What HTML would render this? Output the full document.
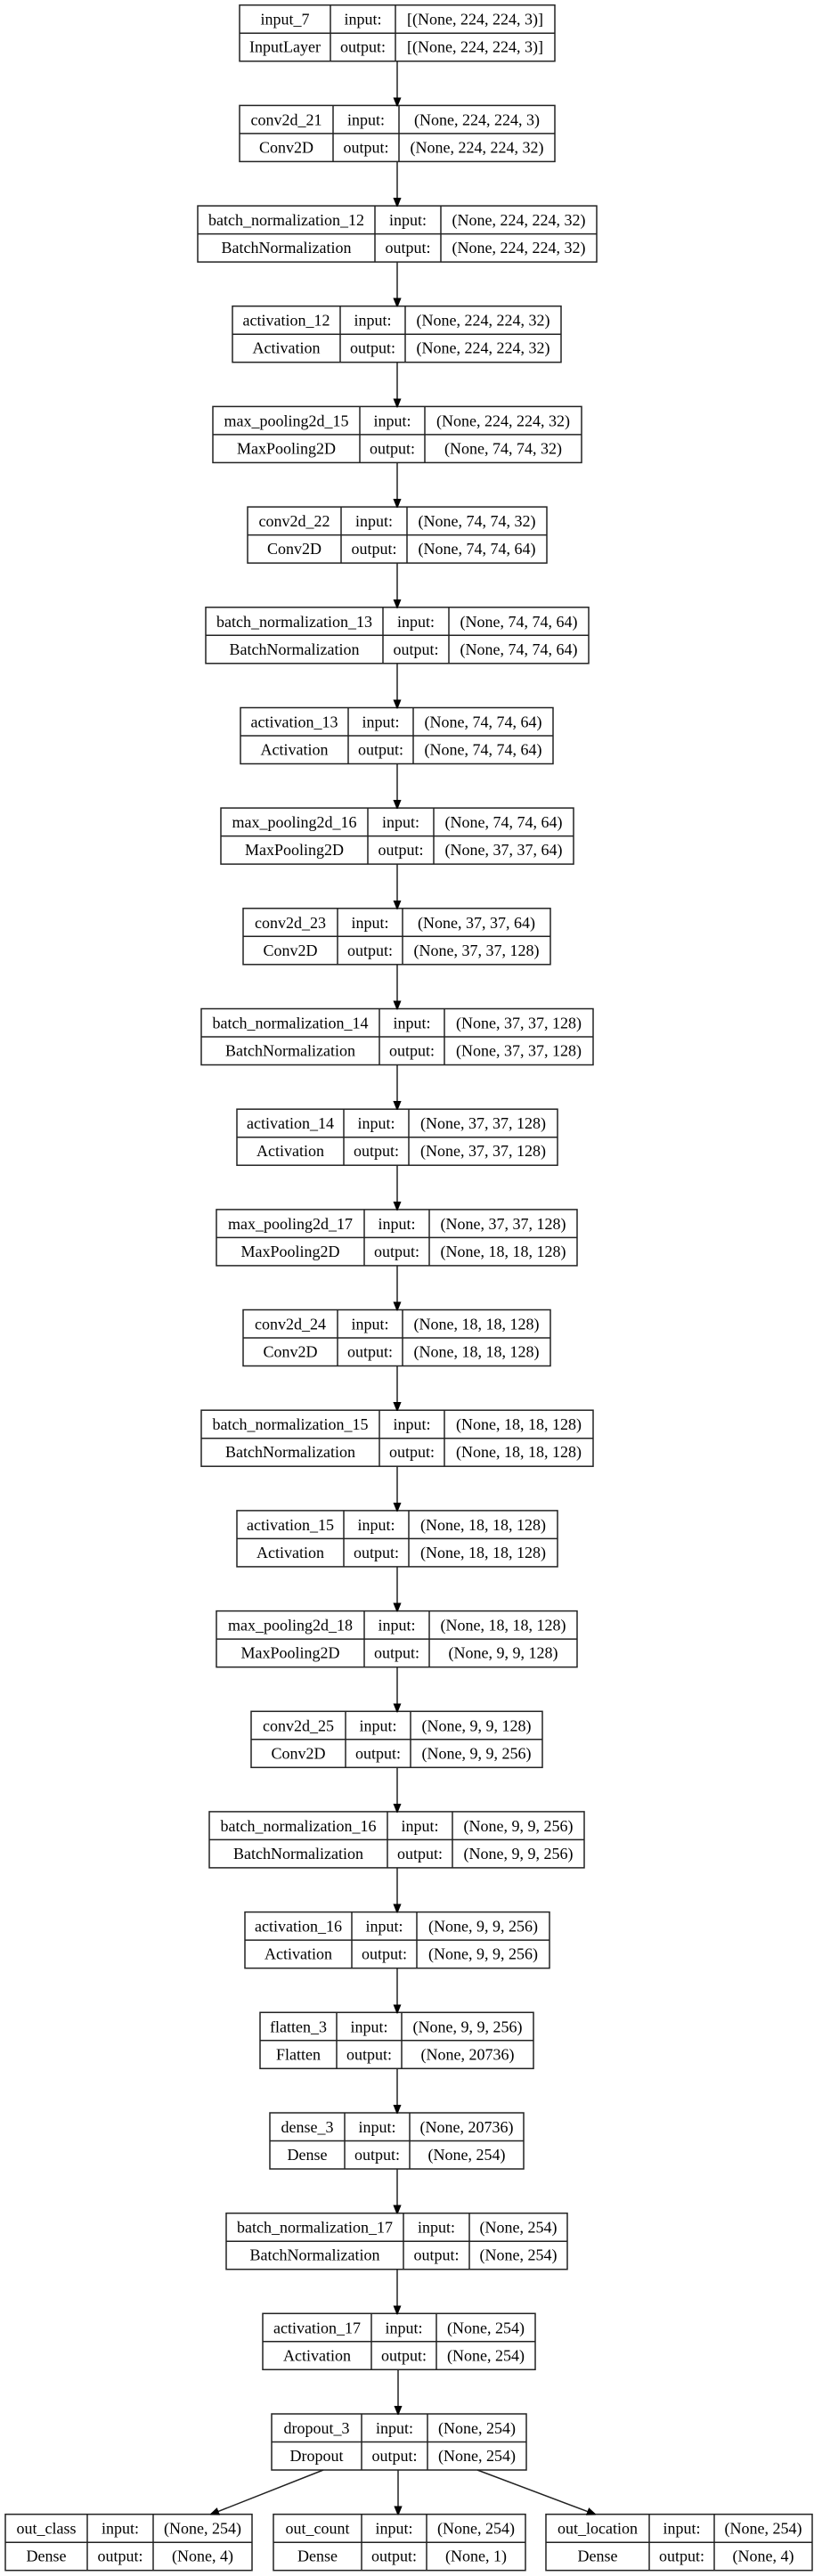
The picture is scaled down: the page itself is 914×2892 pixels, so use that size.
<!DOCTYPE html>
<html><head><meta charset="utf-8"><style>
html,body{margin:0;padding:0;background:#fff;width:914px;height:2892px;overflow:hidden}
svg{display:block}
text{font-family:"Liberation Serif",serif;font-size:18px;fill:#000;text-anchor:middle;dominant-baseline:central}
rect,line.b{fill:none;stroke:#222;stroke-width:1.5}
line.a{stroke:#222;stroke-width:1.5}
polygon{fill:#000;stroke:#000}
</style></head><body>
<svg width="914" height="2892" viewBox="0 0 914 2892" xmlns="http://www.w3.org/2000/svg">
<defs><marker id="m" markerWidth="10" markerHeight="10" refX="9" refY="5" orient="auto" markerUnits="userSpaceOnUse"><polygon points="0,1 10,5 0,9"/></marker></defs>

<g transform="translate(0,5.7)"><rect x="269" y="0" width="354" height="63"/><line class="b" x1="269" y1="31.5" x2="623" y2="31.5"/><line class="b" x1="371" y1="0" x2="371" y2="63"/><line class="b" x1="444" y1="0" x2="444" y2="63"/><text x="320" y="16">input_7</text><text x="407.5" y="16">input:</text><text x="533.5" y="16">[(None, 224, 224, 3)]</text><text x="320" y="47">InputLayer</text><text x="407.5" y="47">output:</text><text x="533.5" y="47">[(None, 224, 224, 3)]</text></g>

<g transform="translate(0,118.4)"><rect x="269" y="0" width="354" height="63"/><line class="b" x1="269" y1="31.5" x2="623" y2="31.5"/><line class="b" x1="374" y1="0" x2="374" y2="63"/><line class="b" x1="448" y1="0" x2="448" y2="63"/><text x="321.5" y="16">conv2d_21</text><text x="411" y="16">input:</text><text x="535.5" y="16">(None, 224, 224, 3)</text><text x="321.5" y="47">Conv2D</text><text x="411" y="47">output:</text><text x="535.5" y="47">(None, 224, 224, 32)</text></g>

<g transform="translate(0,231.1)"><rect x="222" y="0" width="448" height="63"/><line class="b" x1="222" y1="31.5" x2="670" y2="31.5"/><line class="b" x1="421" y1="0" x2="421" y2="63"/><line class="b" x1="495" y1="0" x2="495" y2="63"/><text x="321.5" y="16">batch_normalization_12</text><text x="458" y="16">input:</text><text x="582.5" y="16">(None, 224, 224, 32)</text><text x="321.5" y="47">BatchNormalization</text><text x="458" y="47">output:</text><text x="582.5" y="47">(None, 224, 224, 32)</text></g>

<g transform="translate(0,343.7)"><rect x="261" y="0" width="369" height="63"/><line class="b" x1="261" y1="31.5" x2="630" y2="31.5"/><line class="b" x1="382" y1="0" x2="382" y2="63"/><line class="b" x1="455" y1="0" x2="455" y2="63"/><text x="321.5" y="16">activation_12</text><text x="418.5" y="16">input:</text><text x="542.5" y="16">(None, 224, 224, 32)</text><text x="321.5" y="47">Activation</text><text x="418.5" y="47">output:</text><text x="542.5" y="47">(None, 224, 224, 32)</text></g>

<g transform="translate(0,456.4)"><rect x="239" y="0" width="414" height="63"/><line class="b" x1="239" y1="31.5" x2="653" y2="31.5"/><line class="b" x1="404" y1="0" x2="404" y2="63"/><line class="b" x1="477" y1="0" x2="477" y2="63"/><text x="321.5" y="16">max_pooling2d_15</text><text x="440.5" y="16">input:</text><text x="565" y="16">(None, 224, 224, 32)</text><text x="321.5" y="47">MaxPooling2D</text><text x="440.5" y="47">output:</text><text x="565" y="47">(None, 74, 74, 32)</text></g>

<g transform="translate(0,569.1)"><rect x="278" y="0" width="336" height="63"/><line class="b" x1="278" y1="31.5" x2="614" y2="31.5"/><line class="b" x1="383" y1="0" x2="383" y2="63"/><line class="b" x1="457" y1="0" x2="457" y2="63"/><text x="330.5" y="16">conv2d_22</text><text x="420" y="16">input:</text><text x="535.5" y="16">(None, 74, 74, 32)</text><text x="330.5" y="47">Conv2D</text><text x="420" y="47">output:</text><text x="535.5" y="47">(None, 74, 74, 64)</text></g>

<g transform="translate(0,681.8)"><rect x="231" y="0" width="430" height="63"/><line class="b" x1="231" y1="31.5" x2="661" y2="31.5"/><line class="b" x1="430" y1="0" x2="430" y2="63"/><line class="b" x1="504" y1="0" x2="504" y2="63"/><text x="330.5" y="16">batch_normalization_13</text><text x="467" y="16">input:</text><text x="582.5" y="16">(None, 74, 74, 64)</text><text x="330.5" y="47">BatchNormalization</text><text x="467" y="47">output:</text><text x="582.5" y="47">(None, 74, 74, 64)</text></g>

<g transform="translate(0,794.5)"><rect x="270" y="0" width="351" height="63"/><line class="b" x1="270" y1="31.5" x2="621" y2="31.5"/><line class="b" x1="391" y1="0" x2="391" y2="63"/><line class="b" x1="464" y1="0" x2="464" y2="63"/><text x="330.5" y="16">activation_13</text><text x="427.5" y="16">input:</text><text x="542.5" y="16">(None, 74, 74, 64)</text><text x="330.5" y="47">Activation</text><text x="427.5" y="47">output:</text><text x="542.5" y="47">(None, 74, 74, 64)</text></g>

<g transform="translate(0,907.1)"><rect x="248" y="0" width="396" height="63"/><line class="b" x1="248" y1="31.5" x2="644" y2="31.5"/><line class="b" x1="413" y1="0" x2="413" y2="63"/><line class="b" x1="487" y1="0" x2="487" y2="63"/><text x="330.5" y="16">max_pooling2d_16</text><text x="450" y="16">input:</text><text x="565.5" y="16">(None, 74, 74, 64)</text><text x="330.5" y="47">MaxPooling2D</text><text x="450" y="47">output:</text><text x="565.5" y="47">(None, 37, 37, 64)</text></g>

<g transform="translate(0,1019.8)"><rect x="273" y="0" width="345" height="63"/><line class="b" x1="273" y1="31.5" x2="618" y2="31.5"/><line class="b" x1="379" y1="0" x2="379" y2="63"/><line class="b" x1="452" y1="0" x2="452" y2="63"/><text x="326" y="16">conv2d_23</text><text x="415.5" y="16">input:</text><text x="535" y="16">(None, 37, 37, 64)</text><text x="326" y="47">Conv2D</text><text x="415.5" y="47">output:</text><text x="535" y="47">(None, 37, 37, 128)</text></g>

<g transform="translate(0,1132.5)"><rect x="226" y="0" width="440" height="63"/><line class="b" x1="226" y1="31.5" x2="666" y2="31.5"/><line class="b" x1="426" y1="0" x2="426" y2="63"/><line class="b" x1="499" y1="0" x2="499" y2="63"/><text x="326" y="16">batch_normalization_14</text><text x="462.5" y="16">input:</text><text x="582.5" y="16">(None, 37, 37, 128)</text><text x="326" y="47">BatchNormalization</text><text x="462.5" y="47">output:</text><text x="582.5" y="47">(None, 37, 37, 128)</text></g>

<g transform="translate(0,1245.2)"><rect x="266" y="0" width="360" height="63"/><line class="b" x1="266" y1="31.5" x2="626" y2="31.5"/><line class="b" x1="386" y1="0" x2="386" y2="63"/><line class="b" x1="459" y1="0" x2="459" y2="63"/><text x="326" y="16">activation_14</text><text x="422.5" y="16">input:</text><text x="542.5" y="16">(None, 37, 37, 128)</text><text x="326" y="47">Activation</text><text x="422.5" y="47">output:</text><text x="542.5" y="47">(None, 37, 37, 128)</text></g>

<g transform="translate(0,1357.9)"><rect x="243" y="0" width="405" height="63"/><line class="b" x1="243" y1="31.5" x2="648" y2="31.5"/><line class="b" x1="409" y1="0" x2="409" y2="63"/><line class="b" x1="482" y1="0" x2="482" y2="63"/><text x="326" y="16">max_pooling2d_17</text><text x="445.5" y="16">input:</text><text x="565" y="16">(None, 37, 37, 128)</text><text x="326" y="47">MaxPooling2D</text><text x="445.5" y="47">output:</text><text x="565" y="47">(None, 18, 18, 128)</text></g>

<g transform="translate(0,1470.5)"><rect x="273" y="0" width="345" height="63"/><line class="b" x1="273" y1="31.5" x2="618" y2="31.5"/><line class="b" x1="379" y1="0" x2="379" y2="63"/><line class="b" x1="452" y1="0" x2="452" y2="63"/><text x="326" y="16">conv2d_24</text><text x="415.5" y="16">input:</text><text x="535" y="16">(None, 18, 18, 128)</text><text x="326" y="47">Conv2D</text><text x="415.5" y="47">output:</text><text x="535" y="47">(None, 18, 18, 128)</text></g>

<g transform="translate(0,1583.2)"><rect x="226" y="0" width="440" height="63"/><line class="b" x1="226" y1="31.5" x2="666" y2="31.5"/><line class="b" x1="426" y1="0" x2="426" y2="63"/><line class="b" x1="499" y1="0" x2="499" y2="63"/><text x="326" y="16">batch_normalization_15</text><text x="462.5" y="16">input:</text><text x="582.5" y="16">(None, 18, 18, 128)</text><text x="326" y="47">BatchNormalization</text><text x="462.5" y="47">output:</text><text x="582.5" y="47">(None, 18, 18, 128)</text></g>

<g transform="translate(0,1695.9)"><rect x="266" y="0" width="360" height="63"/><line class="b" x1="266" y1="31.5" x2="626" y2="31.5"/><line class="b" x1="386" y1="0" x2="386" y2="63"/><line class="b" x1="459" y1="0" x2="459" y2="63"/><text x="326" y="16">activation_15</text><text x="422.5" y="16">input:</text><text x="542.5" y="16">(None, 18, 18, 128)</text><text x="326" y="47">Activation</text><text x="422.5" y="47">output:</text><text x="542.5" y="47">(None, 18, 18, 128)</text></g>

<g transform="translate(0,1808.6)"><rect x="243" y="0" width="405" height="63"/><line class="b" x1="243" y1="31.5" x2="648" y2="31.5"/><line class="b" x1="409" y1="0" x2="409" y2="63"/><line class="b" x1="482" y1="0" x2="482" y2="63"/><text x="326" y="16">max_pooling2d_18</text><text x="445.5" y="16">input:</text><text x="565" y="16">(None, 18, 18, 128)</text><text x="326" y="47">MaxPooling2D</text><text x="445.5" y="47">output:</text><text x="565" y="47">(None, 9, 9, 128)</text></g>

<g transform="translate(0,1921.3)"><rect x="282" y="0" width="327" height="63"/><line class="b" x1="282" y1="31.5" x2="609" y2="31.5"/><line class="b" x1="388" y1="0" x2="388" y2="63"/><line class="b" x1="461" y1="0" x2="461" y2="63"/><text x="335" y="16">conv2d_25</text><text x="424.5" y="16">input:</text><text x="535" y="16">(None, 9, 9, 128)</text><text x="335" y="47">Conv2D</text><text x="424.5" y="47">output:</text><text x="535" y="47">(None, 9, 9, 256)</text></g>

<g transform="translate(0,2033.9)"><rect x="235" y="0" width="421" height="63"/><line class="b" x1="235" y1="31.5" x2="656" y2="31.5"/><line class="b" x1="435" y1="0" x2="435" y2="63"/><line class="b" x1="508" y1="0" x2="508" y2="63"/><text x="335" y="16">batch_normalization_16</text><text x="471.5" y="16">input:</text><text x="582" y="16">(None, 9, 9, 256)</text><text x="335" y="47">BatchNormalization</text><text x="471.5" y="47">output:</text><text x="582" y="47">(None, 9, 9, 256)</text></g>

<g transform="translate(0,2146.6)"><rect x="275" y="0" width="342" height="63"/><line class="b" x1="275" y1="31.5" x2="617" y2="31.5"/><line class="b" x1="395" y1="0" x2="395" y2="63"/><line class="b" x1="468" y1="0" x2="468" y2="63"/><text x="335" y="16">activation_16</text><text x="431.5" y="16">input:</text><text x="542.5" y="16">(None, 9, 9, 256)</text><text x="335" y="47">Activation</text><text x="431.5" y="47">output:</text><text x="542.5" y="47">(None, 9, 9, 256)</text></g>

<g transform="translate(0,2259.3)"><rect x="292" y="0" width="307" height="63"/><line class="b" x1="292" y1="31.5" x2="599" y2="31.5"/><line class="b" x1="378" y1="0" x2="378" y2="63"/><line class="b" x1="451" y1="0" x2="451" y2="63"/><text x="335" y="16">flatten_3</text><text x="414.5" y="16">input:</text><text x="525" y="16">(None, 9, 9, 256)</text><text x="335" y="47">Flatten</text><text x="414.5" y="47">output:</text><text x="525" y="47">(None, 20736)</text></g>

<g transform="translate(0,2372)"><rect x="303" y="0" width="285" height="63"/><line class="b" x1="303" y1="31.5" x2="588" y2="31.5"/><line class="b" x1="387" y1="0" x2="387" y2="63"/><line class="b" x1="460" y1="0" x2="460" y2="63"/><text x="345" y="16">dense_3</text><text x="423.5" y="16">input:</text><text x="524" y="16">(None, 20736)</text><text x="345" y="47">Dense</text><text x="423.5" y="47">output:</text><text x="524" y="47">(None, 254)</text></g>

<g transform="translate(0,2484.7)"><rect x="254" y="0" width="383" height="63"/><line class="b" x1="254" y1="31.5" x2="637" y2="31.5"/><line class="b" x1="453" y1="0" x2="453" y2="63"/><line class="b" x1="527" y1="0" x2="527" y2="63"/><text x="353.5" y="16">batch_normalization_17</text><text x="490" y="16">input:</text><text x="582" y="16">(None, 254)</text><text x="353.5" y="47">BatchNormalization</text><text x="490" y="47">output:</text><text x="582" y="47">(None, 254)</text></g>

<g transform="translate(0,2597.3)"><rect x="295" y="0" width="306" height="63"/><line class="b" x1="295" y1="31.5" x2="601" y2="31.5"/><line class="b" x1="417" y1="0" x2="417" y2="63"/><line class="b" x1="490" y1="0" x2="490" y2="63"/><text x="356" y="16">activation_17</text><text x="453.5" y="16">input:</text><text x="545.5" y="16">(None, 254)</text><text x="356" y="47">Activation</text><text x="453.5" y="47">output:</text><text x="545.5" y="47">(None, 254)</text></g>

<g transform="translate(0,2710)"><rect x="305" y="0" width="286" height="63"/><line class="b" x1="305" y1="31.5" x2="591" y2="31.5"/><line class="b" x1="406" y1="0" x2="406" y2="63"/><line class="b" x1="480" y1="0" x2="480" y2="63"/><text x="355.5" y="16">dropout_3</text><text x="443" y="16">input:</text><text x="535.5" y="16">(None, 254)</text><text x="355.5" y="47">Dropout</text><text x="443" y="47">output:</text><text x="535.5" y="47">(None, 254)</text></g>

<g transform="translate(0,2822.7)">
<rect x="6" y="0" width="277" height="63"/><line class="b" x1="6" y1="31.5" x2="283" y2="31.5"/><line class="b" x1="98" y1="0" x2="98" y2="63"/><line class="b" x1="172" y1="0" x2="172" y2="63"/><text x="52" y="16">out_class</text><text x="135" y="16">input:</text><text x="227.5" y="16">(None, 254)</text><text x="52" y="47">Dense</text><text x="135" y="47">output:</text><text x="227.5" y="47">(None, 4)</text>
<rect x="307" y="0" width="283" height="63"/><line class="b" x1="307" y1="31.5" x2="590" y2="31.5"/><line class="b" x1="406" y1="0" x2="406" y2="63"/><line class="b" x1="479" y1="0" x2="479" y2="63"/><text x="356.5" y="16">out_count</text><text x="442.5" y="16">input:</text><text x="534.5" y="16">(None, 254)</text><text x="356.5" y="47">Dense</text><text x="442.5" y="47">output:</text><text x="534.5" y="47">(None, 1)</text>
<rect x="613" y="0" width="299" height="63"/><line class="b" x1="613" y1="31.5" x2="912" y2="31.5"/><line class="b" x1="729" y1="0" x2="729" y2="63"/><line class="b" x1="802" y1="0" x2="802" y2="63"/><text x="671" y="16">out_location</text><text x="765.5" y="16">input:</text><text x="857" y="16">(None, 254)</text><text x="671" y="47">Dense</text><text x="765.5" y="47">output:</text><text x="857" y="47">(None, 4)</text>
</g>

<g>
<line class="a" x1="446" y1="68.7" x2="446" y2="118.4" marker-end="url(#m)"/>
<line class="a" x1="446" y1="181.4" x2="446" y2="231.1" marker-end="url(#m)"/>
<line class="a" x1="446" y1="294.1" x2="446" y2="343.7" marker-end="url(#m)"/>
<line class="a" x1="446" y1="406.7" x2="446" y2="456.4" marker-end="url(#m)"/>
<line class="a" x1="446" y1="519.4" x2="446" y2="569.1" marker-end="url(#m)"/>
<line class="a" x1="446" y1="632.1" x2="446" y2="681.8" marker-end="url(#m)"/>
<line class="a" x1="446" y1="744.8" x2="446" y2="794.5" marker-end="url(#m)"/>
<line class="a" x1="446" y1="857.5" x2="446" y2="907.1" marker-end="url(#m)"/>
<line class="a" x1="446" y1="970.1" x2="446" y2="1019.8" marker-end="url(#m)"/>
<line class="a" x1="446" y1="1082.8" x2="446" y2="1132.5" marker-end="url(#m)"/>
<line class="a" x1="446" y1="1195.5" x2="446" y2="1245.2" marker-end="url(#m)"/>
<line class="a" x1="446" y1="1308.2" x2="446" y2="1357.9" marker-end="url(#m)"/>
<line class="a" x1="446" y1="1420.9" x2="446" y2="1470.5" marker-end="url(#m)"/>
<line class="a" x1="446" y1="1533.5" x2="446" y2="1583.2" marker-end="url(#m)"/>
<line class="a" x1="446" y1="1646.2" x2="446" y2="1695.9" marker-end="url(#m)"/>
<line class="a" x1="446" y1="1758.9" x2="446" y2="1808.6" marker-end="url(#m)"/>
<line class="a" x1="446" y1="1871.6" x2="446" y2="1921.3" marker-end="url(#m)"/>
<line class="a" x1="446" y1="1984.3" x2="446" y2="2033.9" marker-end="url(#m)"/>
<line class="a" x1="446" y1="2096.9" x2="446" y2="2146.6" marker-end="url(#m)"/>
<line class="a" x1="446" y1="2209.6" x2="446" y2="2259.3" marker-end="url(#m)"/>
<line class="a" x1="446" y1="2322.3" x2="446" y2="2372" marker-end="url(#m)"/>
<line class="a" x1="446" y1="2435" x2="446" y2="2484.7" marker-end="url(#m)"/>
<line class="a" x1="446" y1="2547.7" x2="446" y2="2597.3" marker-end="url(#m)"/>
<line class="a" x1="447" y1="2660.3" x2="447" y2="2710" marker-end="url(#m)"/>
<line class="a" x1="447" y1="2773" x2="447" y2="2822.7" marker-end="url(#m)"/>
<line class="a" x1="363" y1="2773" x2="237" y2="2822.7" marker-end="url(#m)"/>
<line class="a" x1="536" y1="2773" x2="668" y2="2822.7" marker-end="url(#m)"/>
</g>
</svg>
</body></html>
